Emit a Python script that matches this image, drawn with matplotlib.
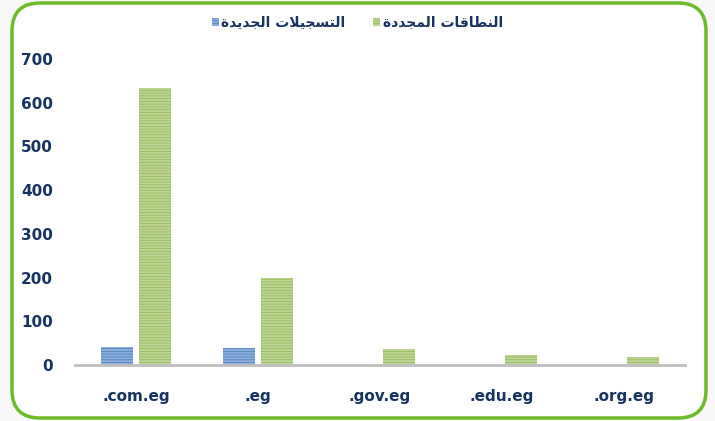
import matplotlib.pyplot as plt
import numpy as np
from matplotlib.patches import FancyBboxPatch
from matplotlib.transforms import IdentityTransform

# data
domains = [".com.eg", ".eg", ".gov.eg", ".edu.eg", ".org.eg"]
new_regs = [41, 39, 0, 0, 0]
renewed = [634, 199, 37, 22, 18]
label_new = "التسجيلات الجديدة"
label_renewed = "النطاقات المجددة"

# matplotlib has no arabic shaping, so map letters to presentation forms
# (isolated, final, initial, medial)
FORMS = {
    "ا": ("\uFE8D", "\uFE8E", None, None),
    "د": ("\uFEA9", "\uFEAA", None, None),
    "ة": ("\uFE93", "\uFE94", None, None),
    "ل": ("\uFEDD", "\uFEDE", "\uFEDF", "\uFEE0"),
    "ت": ("\uFE95", "\uFE96", "\uFE97", "\uFE98"),
    "س": ("\uFEB1", "\uFEB2", "\uFEB3", "\uFEB4"),
    "ج": ("\uFE9D", "\uFE9E", "\uFE9F", "\uFEA0"),
    "ي": ("\uFEF1", "\uFEF2", "\uFEF3", "\uFEF4"),
    "ن": ("\uFEE5", "\uFEE6", "\uFEE7", "\uFEE8"),
    "ط": ("\uFEC1", "\uFEC2", "\uFEC3", "\uFEC4"),
    "ق": ("\uFED5", "\uFED6", "\uFED7", "\uFED8"),
    "م": ("\uFEE1", "\uFEE2", "\uFEE3", "\uFEE4"),
    "لا": ("\uFEFB", "\uFEFC", None, None),
}


def shape(text):
    words = []
    for w in text.split(" "):
        letters = []
        i = 0
        while i < len(w):
            if w[i] == "ل" and i + 1 < len(w) and w[i + 1] == "ا":
                letters.append("لا")
                i += 2
            else:
                letters.append(w[i])
                i += 1
        out = ""
        for j, ch in enumerate(letters):
            prev = j > 0 and FORMS[letters[j - 1]][2] is not None
            nxt = j < len(letters) - 1 and FORMS[ch][2] is not None
            if prev and nxt:
                out += FORMS[ch][3]
            elif prev:
                out += FORMS[ch][1]
            elif nxt:
                out += FORMS[ch][2]
            else:
                out += FORMS[ch][0]
        words.append(out)
    return " ".join(words)[::-1]


navy = "#17335F"
plt.rcParams["font.family"] = ["DejaVu Sans"]
plt.rcParams["hatch.linewidth"] = 0.6

fig = plt.figure(figsize=(7.15, 4.21), dpi=100, facecolor="#F8F8F8")
border = FancyBboxPatch((12, 3), 694, 415, boxstyle="round,pad=0,rounding_size=28",
                        transform=IdentityTransform(), facecolor="white",
                        edgecolor="#6DBB2A", linewidth=2.5, zorder=-5)
fig.patches.append(border)

ax = fig.add_axes([0.105, 0.133, 0.853, 0.727])
ax.set_facecolor("none")
x = np.arange(len(domains))
w = 0.26
b1 = ax.bar(x - 0.155, new_regs, w, color="#8BAEDC", edgecolor="#5586C4",
            hatch="------", linewidth=0, label=shape(label_new))
b2 = ax.bar(x + 0.155, renewed, w, color="#BCD592", edgecolor="#98BA5C",
            hatch="------", linewidth=0, label=shape(label_renewed))

ax.set_xlim(-0.5, len(domains) - 0.5)
ax.set_ylim(0, 700)
ax.set_yticks(range(0, 701, 100))
ax.set_xticks(x)
ax.set_xticklabels(domains)
for s in ["top", "right", "left"]:
    ax.spines[s].set_visible(False)
ax.spines["bottom"].set_color("#BFBFBF")
ax.spines["bottom"].set_linewidth(2)
ax.tick_params(length=0, labelsize=11, labelcolor=navy)
ax.tick_params(axis="y", pad=16)
ax.tick_params(axis="x", pad=17)
for t in ax.get_xticklabels() + ax.get_yticklabels():
    t.set_fontweight("bold")

fig.legend(handles=[b1, b2], loc="center", bbox_to_anchor=(0.5, 0.945), ncol=2,
           frameon=False, handlelength=0.5, handleheight=0.5, handletextpad=0.2,
           columnspacing=2.0, prop={"weight": "bold", "size": 10},
           labelcolor=navy)

fig.savefig("out.png", dpi=100, facecolor=fig.get_facecolor())
